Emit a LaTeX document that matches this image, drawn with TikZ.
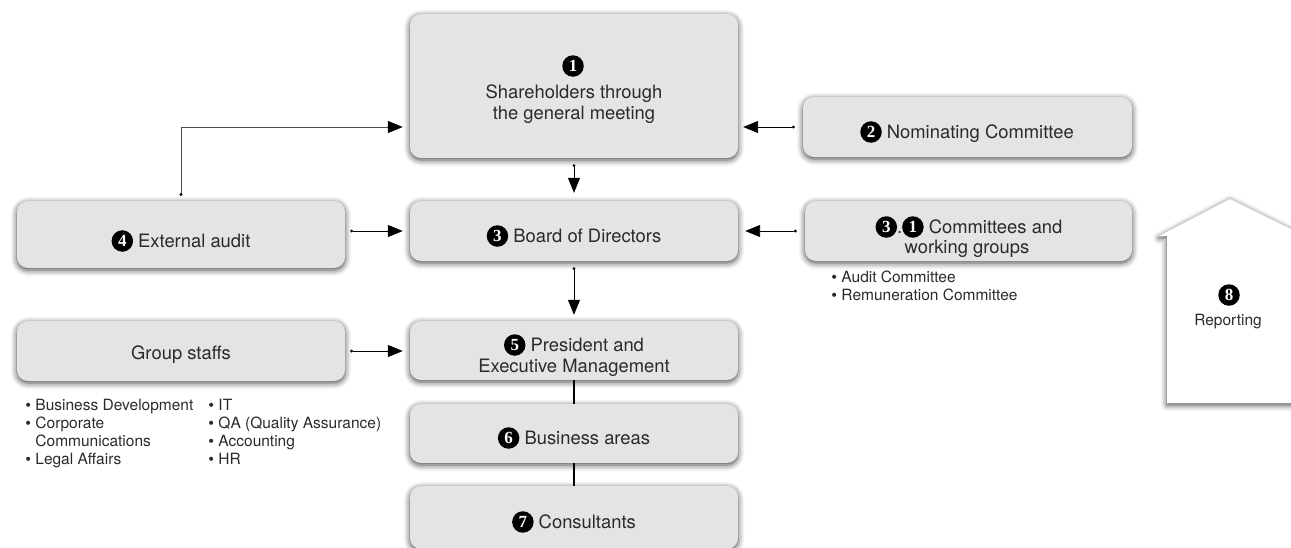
\documentclass[tikz,border=0pt]{standalone}
\usepackage{fontspec}
\setmainfont{TeX Gyre Heros}
\newfontfamily\digitfont{Liberation Serif}
\newfontfamily\dotfont{DejaVu Sans}
\usetikzlibrary{shadows.blur,arrows.meta}
\definecolor{boxgray}{HTML}{E4E4E4}
\definecolor{ink}{HTML}{2A2A2A}
% black disc with a white numeral, sitting on the text baseline
\newcommand\cnum[1]{\tikz[x=1pt,y=1pt,baseline={([yshift=-6.6pt]cn.center)}]\node[circle,fill=black,draw=none,inner sep=0pt,minimum size=21.5pt,text=white,font=\digitfont\bfseries\fontsize{17}{17}\selectfont](cn){#1};}
% list bullet
\newcommand\bul{{\dotfont\fontsize{14}{14}\selectfont •}\hspace{3pt}}
\begin{document}
\begin{tikzpicture}[x=1pt,y=-1pt,
  box/.style={fill=boxgray,draw=none,rounded corners=11pt,inner sep=0pt,
    blur shadow={shadow xshift=0pt,shadow yshift=-2pt,shadow blur radius=6pt,shadow opacity=75}},
  txt/.style={text=ink,font=\fontsize{18.4}{21}\selectfont,inner sep=0pt,anchor=base},
  lst/.style={text=ink,font=\fontsize{15.5}{18}\selectfont,inner sep=0pt,anchor=base west},
  arr/.style={draw=black,line width=0.95pt,{Circle[length=2.8pt,black]}-{Triangle[length=15pt,width=12pt,black]}},
  link/.style={draw=black,line width=2.2pt}]
\useasboundingbox (0,0) rectangle (1291,547);

% boxes
\node[box,minimum width=328pt,minimum height=144pt] (sh)    at (574,86) {};
\node[box,minimum width=329pt,minimum height=60pt]  (nom)   at (967.5,127) {};
\node[box,minimum width=328pt,minimum height=67pt]  (ext)   at (181,234.5) {};
\node[box,minimum width=328pt,minimum height=60pt]  (board) at (574,231) {};
\node[box,minimum width=327pt,minimum height=60pt]  (comm)  at (968.5,231) {};
\node[box,minimum width=328pt,minimum height=60pt]  (grp)   at (181,351) {};
\node[box,minimum width=328pt,minimum height=59pt]  (pres)  at (574,350.5) {};
\node[box,minimum width=328pt,minimum height=59pt]  (bus)   at (574,433.5) {};
\node[box,minimum width=328pt,minimum height=63pt]  (cons)  at (574,517.5) {};

% reporting house
\path[fill=white,blur shadow={shadow xshift=0pt,shadow yshift=-2pt,shadow blur radius=6pt,shadow opacity=75}]
  (1159,236) -- (1230,199) -- (1305,236) -- (1298,236) -- (1298,403)
  -- (1167,403) -- (1167,236) -- cycle;

% box texts
\node[inner sep=0pt] (sh-n) at (573,66) {\cnum{1}};
\node[txt] (sh-t1) at (574,98.6) {Shareholders through};
\node[txt] (sh-t2) at (574,119.6) {the general meeting};
\node[txt] (nom-t) at (967,138.6) {\cnum{2} Nominating Committee};
\node[txt] (ext-t) at (181,247.6) {\cnum{4} External audit};
\node[txt] (board-t) at (574,242.6) {\cnum{3} Board of Directors};
\node[txt] (comm-t1) at (969,233.6) {\cnum{3}.\cnum{1} Committees and};
\node[txt] (comm-t2) at (967,253.6) {working groups};
\node[txt] (grp-t) at (181,359.6) {Group staffs};
\node[txt] (pres-t1) at (574,351.6) {\cnum{5} President and};
\node[txt] (pres-t2) at (574,372.6) {Executive Management};
\node[txt] (bus-t) at (574,444.6) {\cnum{6} Business areas};
\node[txt] (cons-t) at (574,528.6) {\cnum{7} Consultants};
\node[inner sep=0pt] (rep-n) at (1229,295) {\cnum{8}};
\node[txt,font=\fontsize{15.5}{18}\selectfont] (rep-t) at (1228,325) {Reporting};

% lists
\node[lst] (c-l1) at (830,282.6) {\bul Audit Committee};
\node[lst] (c-l2) at (830,300.6) {\bul Remuneration Committee};
\node[lst] (g-l1) at (24,410) {\bul Business Development};
\node[lst] (g-l2) at (24,428) {\bul Corporate};
\node[lst] (g-l3) at (24,446) {\phantom{\bul}Communications};
\node[lst] (g-l4) at (24,464) {\bul Legal Affairs};
\node[lst] (g-r1) at (207,410) {\bul IT};
\node[lst] (g-r2) at (207,428) {\bul QA (Quality Assurance)};
\node[lst] (g-r3) at (207,446) {\bul Accounting};
\node[lst] (g-r4) at (207,464) {\bul HR};

% connectors
\draw[arr] ([xshift=-8pt]nom.west) -- ([xshift=5pt]sh.east |- nom.west);
\draw[arr] ([yshift=-6pt]sh.south) -- ([yshift=8pt]board.north);
\draw[arr,draw=black!70] ([yshift=5pt]ext.north) |- ([xshift=-7pt]sh.west |- nom.west);
\draw[arr] ([xshift=5pt]ext.east |- board.west) -- ([xshift=-7pt]board.west);
\draw[arr] ([xshift=-8pt]comm.west) -- ([xshift=7pt]board.east);
\draw[arr] ([yshift=-6pt]board.south) -- ([yshift=6pt]pres.north);
\draw[arr] ([xshift=5pt]grp.east) -- ([xshift=-7pt]pres.west |- grp.east);
\draw[link] (pres.south) -- (bus.north);
\draw[link] (bus.south) -- (cons.north);
\end{tikzpicture}
\end{document}
